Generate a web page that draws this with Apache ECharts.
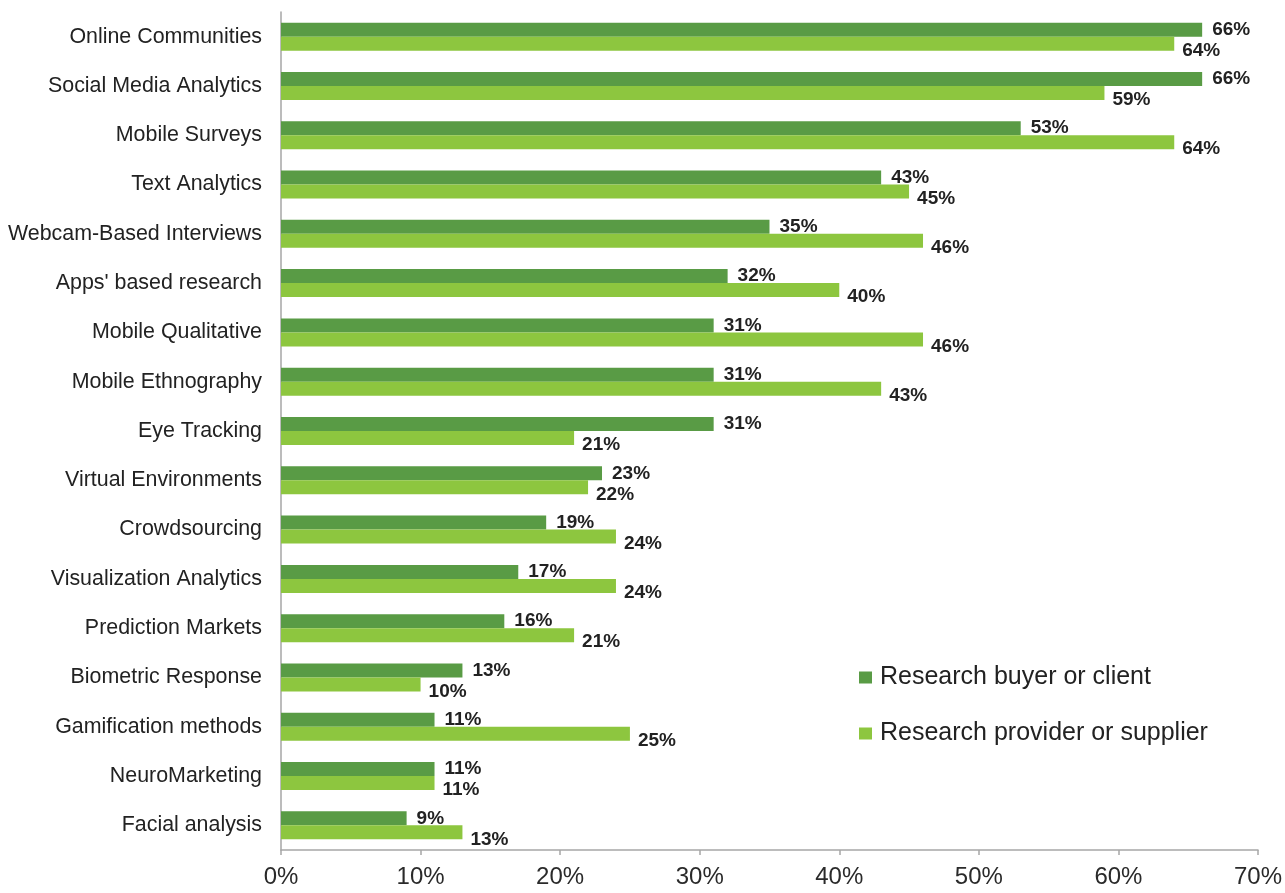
<!DOCTYPE html>
<html>
<head>
<meta charset="utf-8">
<script src="https://cdn.jsdelivr.net/npm/echarts@6/dist/echarts.min.js"></script>
<style>
html,body{margin:0;padding:0;background:#fff;}
#chart{width:1285px;height:893px;}
</style>
</head>
<body>
<div id="chart"></div>
<script>
const categories = [
  "Online Communities","Social Media Analytics","Mobile Surveys","Text Analytics",
  "Webcam-Based Interviews","Apps' based research","Mobile Qualitative","Mobile Ethnography",
  "Eye Tracking","Virtual Environments","Crowdsourcing","Visualization Analytics",
  "Prediction Markets","Biometric Response","Gamification methods","NeuroMarketing","Facial analysis"
];
const buyerValues = [66,66,53,43,35,32,31,31,31,23,19,17,16,13,11,11,9];
const providerValues = [64,59,64,45,46,40,46,43,21,22,24,24,21,10,25,11,13];
const seriesNames = ["Research buyer or client","Research provider or supplier"];
const xTicks = [0,10,20,30,40,50,60,70];

const FONT = '"Liberation Sans", Arial, Helvetica, sans-serif';
const chart = echarts.init(document.getElementById('chart'));
chart.setOption({
  animation:false,
  backgroundColor:'#ffffff',
  grid:{left:281,right:27,top:12,bottom:43,containLabel:false},
  legend:{
    orient:'vertical',left:854,top:660,itemWidth:13,itemHeight:12,itemGap:31,
    icon:'rect',
    textStyle:{fontFamily:FONT,fontSize:25,color:'#222',padding:[0,0,0,3]},
    data:seriesNames
  },
  xAxis:{
    type:'value',min:xTicks[0],max:xTicks[xTicks.length-1],interval:10,
    axisLine:{show:true,lineStyle:{color:'#a6a6a6',width:1.5}},
    axisTick:{show:true,length:5,lineStyle:{color:'#a6a6a6',width:1.5}},
    splitLine:{show:false},
    axisLabel:{fontFamily:FONT,fontSize:24,color:'#2a2a2a',margin:15,formatter:v=>v+'%'}
  },
  yAxis:{
    type:'category',data:categories,inverse:true,
    axisLine:{show:true,lineStyle:{color:'#a6a6a6',width:1.5}},
    axisTick:{show:false},
    axisLabel:{fontFamily:FONT,fontSize:21.4,color:'#222',margin:19}
  },
  series:[
    {
      name:seriesNames[0],type:'bar',data:buyerValues,barWidth:14,barGap:'0%',
      itemStyle:{color:'#599B45'},
      label:{show:true,position:'right',distance:5,offset:[5,0],formatter:'{c}%',
        fontFamily:FONT,fontSize:19,fontWeight:'bold',color:'#222'}
    },
    {
      name:seriesNames[1],type:'bar',data:providerValues,barWidth:14,barGap:'0%',
      itemStyle:{color:'#8DC63F'},
      label:{show:true,position:'right',distance:5,offset:[3,7],formatter:'{c}%',
        fontFamily:FONT,fontSize:19,fontWeight:'bold',color:'#222'}
    }
  ]
});
</script>
</body>
</html>
